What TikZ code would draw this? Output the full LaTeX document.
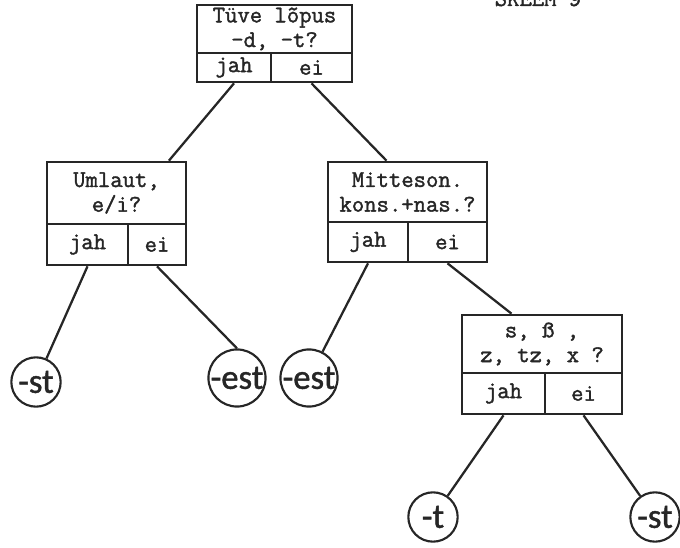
\documentclass[tikz,border=0pt]{standalone}
\usepackage{fontspec}
\newfontfamily\typewr[FakeBold=1.6]{Latin Modern Mono}
\newfontfamily\penhand[FakeBold=1.2]{Carlito}
\usetikzlibrary{calc}

\begin{document}
\begin{tikzpicture}[x=0.75pt,y=-0.75pt,
		ink/.style={draw=black!85,line width=2pt},
		ask/.style={ink,inner sep=0pt,align=center,text=black!85,font=\fontsize{18}{18.5}\selectfont\typewr},
		cell/.style={ink,inner sep=0pt,text=black!85,font=\fontsize{18}{18}\selectfont\typewr},
		ending/.style={circle,draw=black!85,line width=1.6pt,minimum size=37pt,inner sep=0pt,text=black!85,font=\fontsize{26}{26}\selectfont\penhand},
		branch/.style={draw=black!85,line width=1.7pt}]
				\useasboundingbox (0,0) rectangle (680,548);
				\node [anchor=base,text=black!85,font=\fontsize{18}{18}\selectfont\typewr] (title) at (538,6) {SKEEM 9};
				\node [ask,minimum width=116.25pt,minimum height=36pt] (tive) at (274.5,29) {Tüve lõpus\\-d, -t?};
				\node [cell,minimum width=55.5pt,minimum height=21.75pt] (tivej) at (234,67.5) {jah};
				\node [cell,minimum width=60.75pt,minimum height=21.75pt] (tivee) at (311.5,67.5) {ei};
				\node [ask,minimum width=104.25pt,minimum height=46.5pt] (um) at (116.5,193) {Umlaut,\\e/i?};
				\node [cell,minimum width=60.75pt,minimum height=30.75pt] (umj) at (87.5,244.5) {jah};
				\node [cell,minimum width=43.5pt,minimum height=30.75pt] (ume) at (157,244.5) {ei};
				\node [ask,minimum width=119.25pt,minimum height=45pt] (mit) at (407.5,192) {Mitteson.\\kons.+nas.?};
				\node [cell,minimum width=60pt,minimum height=30pt] (mitj) at (368,242) {jah};
				\node [cell,minimum width=59.25pt,minimum height=30pt] (mite) at (447.5,242) {ei};
				\node [ask,minimum width=120pt,minimum height=43.5pt] (sz) at (542,344) {s, ß ,\\z, tz, x ?};
				\node [cell,minimum width=62.25pt,minimum height=30.75pt] (szj) at (503.5,393.5) {jah};
				\node [cell,minimum width=57.75pt,minimum height=30.75pt] (sze) at (583.5,393.5) {ei};
				\node [ending] (st1) at (36,382) {-st};
				\node [ending] (est1) at (237,378) {-est};
				\node [ending] (est2) at (309,378) {-est};
				\node [ending] (t1) at (433,517) {-t};
				\node [ending] (st2) at (655,517) {-st};
				\draw [branch] (tivej.south) -- ($(um.north)!0.74!(um.north east)$);
				\draw [branch] (tivee.south) -- ($(mit.north)!0.26!(mit.north west)$);
				\draw [branch] (umj.south) -- (st1);
				\draw [branch] (ume.south) -- (est1.north);
				\draw [branch] (mitj.south) -- (est2);
				\draw [branch] (mite.south) -- ($(sz.north)!0.375!(sz.north west)$);
				\draw [branch] (szj.south) -- (t1);
				\draw [branch] (sze.south) -- (st2);
\end{tikzpicture}
\end{document}
